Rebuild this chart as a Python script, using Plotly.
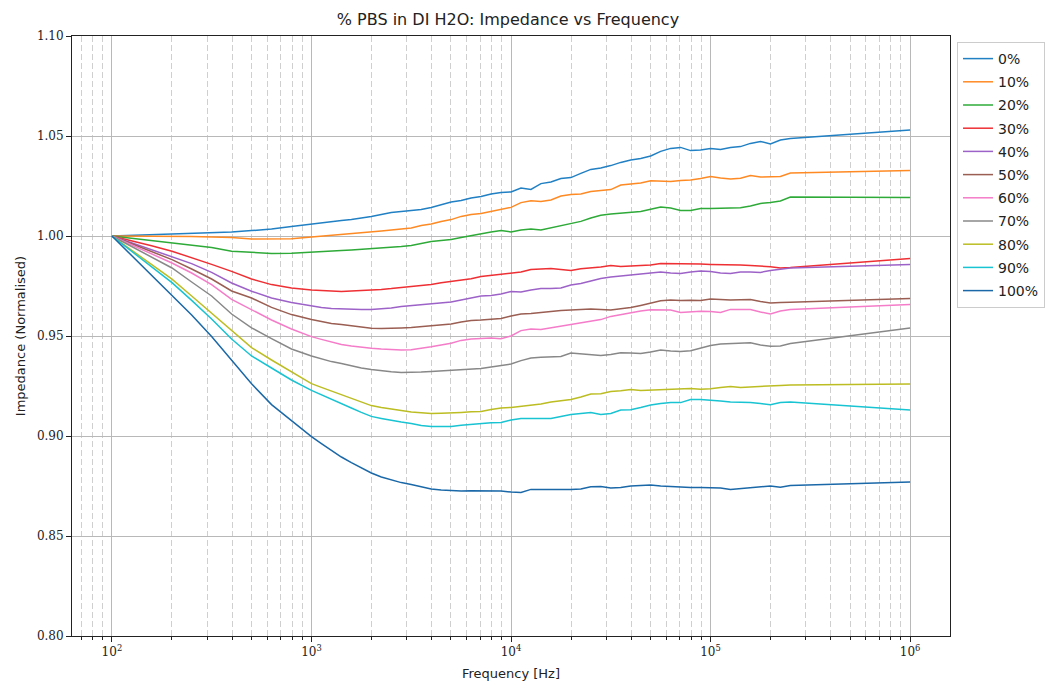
import plotly.graph_objects as go

freq = [100, 126, 158, 200, 251, 316, 398, 501, 631, 794,
        1000, 1122, 1259, 1413, 1585, 1778, 1995, 2239, 2512, 2818,
        3162, 3548, 3981, 4467, 5012, 5623, 6310, 7079, 7943, 8913,
        10000, 11220, 12589, 14125, 15849, 17783, 19953, 22387, 25119, 28184,
        31623, 35481, 39811, 44668, 50119, 56234, 63096, 70795, 79433, 89125,
        100000, 112202, 125893, 141254, 158489, 177828, 199526, 223872, 251189,
        1000000]

s0 = [1.000, 1.0003, 1.0007, 1.001, 1.0013, 1.0017, 1.002, 1.0027, 1.0035, 1.0047,
      1.006, 1.0067, 1.0073, 1.0078, 1.0082, 1.0088, 1.0097, 1.0108, 1.0118, 1.0123,
      1.0127, 1.0132, 1.0143, 1.0158, 1.0170, 1.0178, 1.0190, 1.0198, 1.0210, 1.0218,
      1.0220, 1.0240, 1.0233, 1.0262, 1.0270, 1.0287, 1.0292, 1.0313, 1.0333, 1.0340,
      1.0352, 1.0368, 1.0380, 1.0388, 1.0400, 1.0423, 1.0438, 1.0443, 1.0427, 1.0430,
      1.0437, 1.0432, 1.0442, 1.0447, 1.0463, 1.0473, 1.0460, 1.0480, 1.0487,
      1.0530]

s10 = [1.000, 1.0000, 1.0000, 1.0000, 0.9998, 0.9995, 0.9993, 0.9985, 0.9985, 0.9986,
       0.9995, 0.9999, 1.0002, 1.0007, 1.0012, 1.0016, 1.0020, 1.0025, 1.0030, 1.0036,
       1.0040, 1.0052, 1.0060, 1.0072, 1.0082, 1.0098, 1.0107, 1.0112, 1.0123, 1.0132,
       1.0143, 1.0167, 1.0176, 1.0173, 1.0180, 1.0200, 1.0208, 1.0210, 1.0222, 1.0227,
       1.0232, 1.0255, 1.0260, 1.0265, 1.0276, 1.0276, 1.0273, 1.0278, 1.0280, 1.0287,
       1.0297, 1.0290, 1.0285, 1.0289, 1.0302, 1.0295, 1.0296, 1.0298, 1.0315,
       1.0328]

s20 = [1.000, 0.9988, 0.9975, 0.9963, 0.9952, 0.9942, 0.9924, 0.9920, 0.9913, 0.9914,
       0.9918, 0.9920, 0.9924, 0.9927, 0.9930, 0.9933, 0.9937, 0.9940, 0.9945, 0.9948,
       0.9953, 0.9962, 0.9973, 0.9978, 0.9983, 0.9993, 1.0003, 1.0010, 1.0020, 1.0028,
       1.0020, 1.0030, 1.0035, 1.0030, 1.0040, 1.0050, 1.0060, 1.0073, 1.0090, 1.0104,
       1.0110, 1.0115, 1.0118, 1.0122, 1.0134, 1.0145, 1.0140, 1.0128, 1.0127, 1.0137,
       1.0138, 1.0138, 1.0140, 1.0141, 1.0150, 1.0163, 1.0168, 1.0175, 1.0195,
       1.0193]

s30 = [1.000, 0.9977, 0.9951, 0.9924, 0.9892, 0.9858, 0.9823, 0.9785, 0.9757, 0.9740,
       0.9730, 0.9727, 0.9723, 0.9722, 0.9725, 0.9727, 0.9730, 0.9733, 0.9737, 0.9742,
       0.9745, 0.9750, 0.9758, 0.9766, 0.9772, 0.9778, 0.9786, 0.9797, 0.9803, 0.9808,
       0.9815, 0.9820, 0.9832, 0.9836, 0.9837, 0.9833, 0.9827, 0.9836, 0.9840, 0.9845,
       0.9853, 0.9847, 0.9850, 0.9852, 0.9855, 0.9862, 0.9862, 0.9862, 0.9863, 0.9860,
       0.9858, 0.9858, 0.9857, 0.9855, 0.9853, 0.9851, 0.9846, 0.9840, 0.9842,
       0.9888]

s40 = [1.000, 0.9966, 0.9932, 0.9898, 0.9862, 0.9818, 0.9765, 0.9724, 0.9690, 0.9667,
       0.9648, 0.9642, 0.9637, 0.9635, 0.9634, 0.9633, 0.9633, 0.9636, 0.9640, 0.9647,
       0.9652, 0.9655, 0.9659, 0.9664, 0.9670, 0.9680, 0.9690, 0.9700, 0.9703, 0.9710,
       0.9722, 0.9720, 0.9730, 0.9737, 0.9737, 0.9740, 0.9755, 0.9762, 0.9775, 0.9788,
       0.9795, 0.9800, 0.9808, 0.9813, 0.9818, 0.9820, 0.9815, 0.9812, 0.9820, 0.9825,
       0.9822, 0.9815, 0.9812, 0.9820, 0.9820, 0.9818, 0.9828, 0.9833, 0.9840,
       0.9857]

s50 = [1.000, 0.9960, 0.9921, 0.9882, 0.9835, 0.9785, 0.9725, 0.9690, 0.9643, 0.9607,
       0.9582, 0.9572, 0.9563, 0.9557, 0.9550, 0.9544, 0.9539, 0.9538, 0.9538, 0.9540,
       0.9542, 0.9546, 0.9552, 0.9555, 0.9560, 0.9570, 0.9578, 0.9580, 0.9583, 0.9588,
       0.9600, 0.9610, 0.9612, 0.9616, 0.9622, 0.9628, 0.9630, 0.9632, 0.9635, 0.9632,
       0.9630, 0.9636, 0.9642, 0.9653, 0.9665, 0.9676, 0.9680, 0.9677, 0.9679, 0.9677,
       0.9685, 0.9681, 0.9680, 0.9681, 0.9682, 0.9672, 0.9665, 0.9668, 0.9669,
       0.9688]

s60 = [1.000, 0.9955, 0.9910, 0.9865, 0.9815, 0.9757, 0.9683, 0.9632, 0.9580, 0.9535,
       0.9497, 0.9483, 0.9470, 0.9457, 0.9450, 0.9443, 0.9439, 0.9435, 0.9432, 0.9430,
       0.9431, 0.9437, 0.9446, 0.9455, 0.9464, 0.9478, 0.9485, 0.9488, 0.9490, 0.9486,
       0.9500, 0.9527, 0.9535, 0.9532, 0.9540, 0.9550, 0.9555, 0.9566, 0.9574, 0.9582,
       0.9598, 0.9608, 0.9617, 0.9625, 0.9631, 0.9632, 0.9630, 0.9617, 0.9620, 0.9624,
       0.9622, 0.9618, 0.9633, 0.9634, 0.9633, 0.9620, 0.9610, 0.9625, 0.9633,
       0.9657]

s70 = [1.000, 0.9947, 0.9894, 0.9840, 0.9770, 0.9700, 0.9610, 0.9541, 0.9487, 0.9435,
       0.9400, 0.9385, 0.9372, 0.9362, 0.9350, 0.9340, 0.9332, 0.9325, 0.9321, 0.9318,
       0.9318, 0.9320, 0.9323, 0.9326, 0.9330, 0.9332, 0.9333, 0.9338, 0.9345, 0.9352,
       0.9360, 0.9377, 0.9390, 0.9394, 0.9396, 0.9398, 0.9415, 0.9412, 0.9408, 0.9403,
       0.9408, 0.9416, 0.9415, 0.9413, 0.9420, 0.9430, 0.9425, 0.9423, 0.9426, 0.9440,
       0.9452, 0.9460, 0.9463, 0.9463, 0.9466, 0.9455, 0.9449, 0.9450, 0.9462,
       0.9540]

s80 = [1.000, 0.9928, 0.9856, 0.9784, 0.9700, 0.9613, 0.9526, 0.9442, 0.9380, 0.9320,
       0.9262, 0.9243, 0.9225, 0.9207, 0.9190, 0.9170, 0.9152, 0.9143, 0.9135, 0.9125,
       0.9120, 0.9116, 0.9113, 0.9114, 0.9115, 0.9118, 0.9121, 0.9122, 0.9133, 0.9140,
       0.9143, 0.9148, 0.9153, 0.9160, 0.9170, 0.9178, 0.9183, 0.9195, 0.9210, 0.9211,
       0.9222, 0.9226, 0.9233, 0.9228, 0.9230, 0.9232, 0.9235, 0.9236, 0.9237, 0.9234,
       0.9236, 0.9242, 0.9248, 0.9243, 0.9246, 0.9250, 0.9252, 0.9253, 0.9255,
       0.9260]

s90 = [1.000, 0.9922, 0.9845, 0.9767, 0.9678, 0.9585, 0.9485, 0.9400, 0.9340, 0.9280,
       0.9228, 0.9205, 0.9183, 0.9162, 0.9140, 0.9118, 0.9098, 0.9088, 0.9078, 0.9070,
       0.9063, 0.9052, 0.9047, 0.9046, 0.9048, 0.9054, 0.9058, 0.9063, 0.9066, 0.9067,
       0.9080, 0.9088, 0.9088, 0.9088, 0.9088, 0.9098, 0.9108, 0.9112, 0.9117, 0.9108,
       0.9113, 0.9130, 0.9131, 0.9142, 0.9155, 0.9162, 0.9168, 0.9167, 0.9182, 0.9183,
       0.9180, 0.9175, 0.9170, 0.9170, 0.9168, 0.9162, 0.9156, 0.9167, 0.9170,
       0.9130]

s100 = [1.000, 0.9900, 0.9800, 0.9700, 0.9605, 0.9497, 0.9378, 0.9261, 0.9157, 0.9075,
        0.8997, 0.8962, 0.8928, 0.8895, 0.8867, 0.8840, 0.8815, 0.8795, 0.8780, 0.8767,
        0.8757, 0.8745, 0.8735, 0.8730, 0.8727, 0.8725, 0.8726, 0.8726, 0.8727, 0.8725,
        0.8720, 0.8718, 0.8733, 0.8733, 0.8730, 0.8730, 0.8732, 0.8735, 0.8746, 0.8748,
        0.8740, 0.8742, 0.8750, 0.8752, 0.8755, 0.8750, 0.8747, 0.8747, 0.8742, 0.8742,
        0.8742, 0.8740, 0.8733, 0.8737, 0.8742, 0.8748, 0.8750, 0.8744, 0.8753,
        0.8770]

labels = ["0%", "10%", "20%", "30%", "40%", "50%", "60%", "70%", "80%", "90%", "100%"]
series = [s0, s10, s20, s30, s40, s50, s60, s70, s80, s90, s100]
colors = ["#2180c4", "#ff8a24", "#2eaa38", "#ee2f33", "#9d62c8", "#9a5e52",
          "#f47cc8", "#888888", "#bcbd22", "#18c3d2", "#1a68a8"]

x_tickvals = [100, 1000, 10000, 100000, 1000000]
x_ticktext = ["10<sup>2</sup>", "10<sup>3</sup>", "10<sup>4</sup>", "10<sup>5</sup>", "10<sup>6</sup>"]

fig = go.Figure()
for lab, ys, c in zip(labels, series, colors):
    fig.add_trace(go.Scatter(x=freq, y=ys, mode="lines", name=lab,
                             line=dict(color=c, width=1.5), legendgroup=lab))

tick_font = dict(family="DejaVu Serif", size=12, color="#222")
label_font = dict(family="DejaVu Sans", size=13, color="#222")
fig.update_layout(
    width=1048, height=682,
    margin=dict(l=72, r=98, t=36, b=46, autoexpand=False),
    paper_bgcolor="white", plot_bgcolor="white",
    title=dict(text="% PBS in DI H2O: Impedance vs Frequency", x=0.4847, xanchor="center",
               y=0.972, yanchor="middle", font=dict(family="DejaVu Sans", size=16, color="#222")),
    font=dict(family="DejaVu Sans", size=13, color="#222"),
    showlegend=True,
    legend=dict(x=1.008, y=0.99, xanchor="left", yanchor="top",
                bordercolor="#cccccc", borderwidth=1, bgcolor="rgba(255,255,255,0.9)",
                font=dict(family="DejaVu Sans", size=14, color="#222"),
                tracegroupgap=2, itemwidth=30),
)
fig.update_xaxes(
    type="log", range=[1.8, 6.2],
    tickvals=x_tickvals, ticktext=x_ticktext, tickfont=tick_font,
    ticks="outside", ticklen=5, tickcolor="#222",
    showline=True, linecolor="#222", linewidth=1, mirror=True,
    showgrid=True, gridcolor="#b8b8b8", gridwidth=1,
    minor=dict(dtick="D1", ticks="outside", ticklen=3, tickcolor="#222",
               showgrid=True, gridcolor="#cfcfcf", griddash="6px,3px", gridwidth=1),
    title=dict(text="Frequency [Hz]", font=label_font, standoff=10),
    zeroline=False,
)
fig.update_yaxes(
    range=[0.80, 1.10], dtick=0.05, tick0=0.8, tickformat=".2f", tickfont=tick_font,
    ticks="outside", ticklen=5, tickcolor="#222",
    showline=True, linecolor="#222", linewidth=1, mirror=True,
    showgrid=True, gridcolor="#b8b8b8", gridwidth=1,
    title=dict(text="Impedance (Normalised)", font=label_font, standoff=8),
    zeroline=False,
)

fig.write_html("out.html")
